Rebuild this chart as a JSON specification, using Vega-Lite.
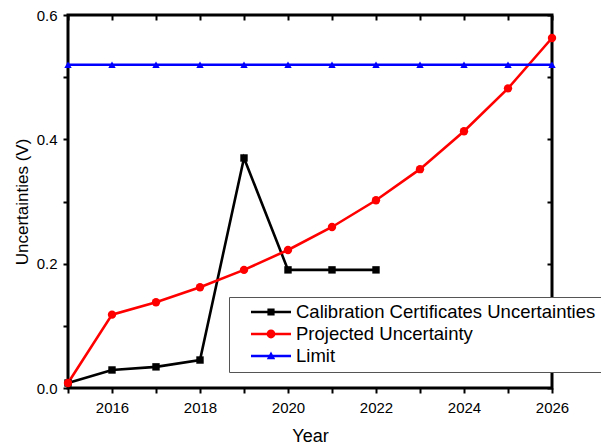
{
  "$schema": "https://vega.github.io/schema/vega-lite/v6.json",
  "width": 484,
  "height": 373,
  "autosize": {"type": "none"},
  "padding": {"left": 68, "top": 15, "right": 49, "bottom": 57},
  "background": "white",
  "config": {
    "view": {"stroke": "black", "strokeWidth": 3},
    "font": "Liberation Sans",
    "axis": {
      "domain": false,
      "grid": false,
      "tickColor": "black",
      "tickWidth": 2,
      "tickSize": 5,
      "labelFont": "Liberation Sans",
      "labelFontSize": 15,
      "labelFontWeight": "normal",
      "labelColor": "black",
      "titleFont": "Liberation Sans",
      "titleFontWeight": "normal",
      "titleColor": "black",
      "labelFlush": false,
      "labelOverlap": false
    }
  },
  "data": {
    "values": [
      {"series": "Calibration Certificates Uncertainties", "year": 2015, "value": 0.008},
      {"series": "Calibration Certificates Uncertainties", "year": 2016, "value": 0.029},
      {"series": "Calibration Certificates Uncertainties", "year": 2017, "value": 0.034},
      {"series": "Calibration Certificates Uncertainties", "year": 2018, "value": 0.045},
      {"series": "Calibration Certificates Uncertainties", "year": 2019, "value": 0.37},
      {"series": "Calibration Certificates Uncertainties", "year": 2020, "value": 0.19},
      {"series": "Calibration Certificates Uncertainties", "year": 2021, "value": 0.19},
      {"series": "Calibration Certificates Uncertainties", "year": 2022, "value": 0.19},
      {"series": "Projected Uncertainty", "year": 2015, "value": 0.008},
      {"series": "Projected Uncertainty", "year": 2016, "value": 0.118},
      {"series": "Projected Uncertainty", "year": 2017, "value": 0.138},
      {"series": "Projected Uncertainty", "year": 2018, "value": 0.162},
      {"series": "Projected Uncertainty", "year": 2019, "value": 0.19},
      {"series": "Projected Uncertainty", "year": 2020, "value": 0.222},
      {"series": "Projected Uncertainty", "year": 2021, "value": 0.259},
      {"series": "Projected Uncertainty", "year": 2022, "value": 0.302},
      {"series": "Projected Uncertainty", "year": 2023, "value": 0.352},
      {"series": "Projected Uncertainty", "year": 2024, "value": 0.413},
      {"series": "Projected Uncertainty", "year": 2025, "value": 0.482},
      {"series": "Projected Uncertainty", "year": 2026, "value": 0.563},
      {"series": "Limit", "year": 2015, "value": 0.52},
      {"series": "Limit", "year": 2016, "value": 0.52},
      {"series": "Limit", "year": 2017, "value": 0.52},
      {"series": "Limit", "year": 2018, "value": 0.52},
      {"series": "Limit", "year": 2019, "value": 0.52},
      {"series": "Limit", "year": 2020, "value": 0.52},
      {"series": "Limit", "year": 2021, "value": 0.52},
      {"series": "Limit", "year": 2022, "value": 0.52},
      {"series": "Limit", "year": 2023, "value": 0.52},
      {"series": "Limit", "year": 2024, "value": 0.52},
      {"series": "Limit", "year": 2025, "value": 0.52},
      {"series": "Limit", "year": 2026, "value": 0.52}
    ]
  },
  "layer": [
    {
      "mark": {"type": "line", "strokeWidth": 2.6},
      "encoding": {
        "x": {
          "field": "year", "type": "quantitative",
          "scale": {"domain": [2015, 2026], "nice": false, "zero": false},
          "axis": {
            "orient": "bottom",
            "title": "Year",
            "titleFontSize": 18,
            "values": [2015, 2016, 2017, 2018, 2019, 2020, 2021, 2022, 2023, 2024, 2025, 2026],
            "format": "d",
            "labelExpr": "datum.value % 2 === 0 ? datum.label : ''",
            "labelPadding": 7,
            "titlePadding": 12
          }
        },
        "y": {
          "field": "value", "type": "quantitative",
          "scale": {"domain": [0, 0.6], "nice": false},
          "axis": {
            "orient": "left",
            "title": "Uncertainties (V)",
            "titleFontSize": 17,
            "values": [0, 0.1, 0.2, 0.3, 0.4, 0.5, 0.6],
            "format": ".1f",
            "labelExpr": "round(datum.value * 10) % 2 === 0 ? datum.label : ''",
            "labelPadding": 6,
            "titlePadding": 5
          }
        },
        "color": {
          "field": "series", "type": "nominal",
          "scale": {
            "domain": ["Calibration Certificates Uncertainties", "Projected Uncertainty", "Limit"],
            "range": ["#000000", "#ff0000", "#0000ff"]
          },
          "legend": {
            "orient": "none",
            "legendX": 161,
            "legendY": 282,
            "title": null,
            "direction": "vertical",
            "strokeColor": "#555555",
            "fillColor": "white",
            "padding": 6,
            "symbolSize": 1600,
            "symbolOffset": 16,
            "symbolStrokeWidth": 0,
            "clipHeight": 18,
            "labelFont": "Liberation Sans",
            "labelFontSize": 18.5,
            "labelColor": "black",
            "labelOffset": 5,
            "labelLimit": 400,
            "rowPadding": 3,
            "encode": {
              "symbols": {
                "update": {
                  "shape": {"signal": "datum.value === 'Limit' ? 'M-1,-0.065L1,-0.065L1,0.065L-1,0.065Z M0,-0.22L0.21,0.16L-0.21,0.16Z' : datum.value === 'Projected Uncertainty' ? 'M-1,-0.065L1,-0.065L1,0.065L-1,0.065Z M-0.22,0A0.22,0.22,0,1,1,0.22,0A0.22,0.22,0,1,1,-0.22,0Z' : 'M-1,-0.065L1,-0.065L1,0.065L-1,0.065Z M-0.18,-0.18L0.18,-0.18L0.18,0.18L-0.18,0.18Z'"},
                  "fill": {"signal": "scale('color', datum.value)"},
                  "stroke": {"value": "transparent"},
                  "strokeWidth": {"value": 0},
                  "opacity": {"value": 1}
                }
              }
            }
          }
        }
      }
    },
    {
      "transform": [{"filter": "datum.series === 'Calibration Certificates Uncertainties'"}],
      "mark": {"type": "point", "filled": true, "opacity": 1, "size": 55, "shape": "square", "color": "#000000"},
      "encoding": {
        "x": {
          "field": "year", "type": "quantitative",
          "scale": {"domain": [2015, 2026], "nice": false, "zero": false},
          "axis": {
            "orient": "top",
            "title": null,
            "labels": false,
            "values": [2015, 2016, 2017, 2018, 2019, 2020, 2021, 2022, 2023, 2024, 2025, 2026],
            "tickSize": -5
          }
        },
        "y": {
          "field": "value", "type": "quantitative",
          "scale": {"domain": [0, 0.6], "nice": false},
          "axis": {
            "orient": "right",
            "title": null,
            "labels": false,
            "values": [0, 0.1, 0.2, 0.3, 0.4, 0.5, 0.6],
            "tickSize": -5
          }
        }
      }
    },
    {
      "transform": [{"filter": "datum.series === 'Projected Uncertainty'"}],
      "mark": {"type": "point", "filled": true, "opacity": 1, "size": 70, "shape": "circle", "color": "#ff0000"},
      "encoding": {
        "x": {"field": "year", "type": "quantitative", "scale": {"domain": [2015, 2026], "nice": false, "zero": false}, "axis": null},
        "y": {"field": "value", "type": "quantitative", "scale": {"domain": [0, 0.6], "nice": false}, "axis": null}
      }
    },
    {
      "transform": [{"filter": "datum.series === 'Limit'"}],
      "mark": {"type": "point", "filled": true, "opacity": 1, "size": 55, "shape": "triangle-up", "color": "#0000ff"},
      "encoding": {
        "x": {"field": "year", "type": "quantitative", "scale": {"domain": [2015, 2026], "nice": false, "zero": false}, "axis": null},
        "y": {"field": "value", "type": "quantitative", "scale": {"domain": [0, 0.6], "nice": false}, "axis": null}
      }
    }
  ],
  "resolve": {"axis": {"x": "independent", "y": "independent"}}
}
